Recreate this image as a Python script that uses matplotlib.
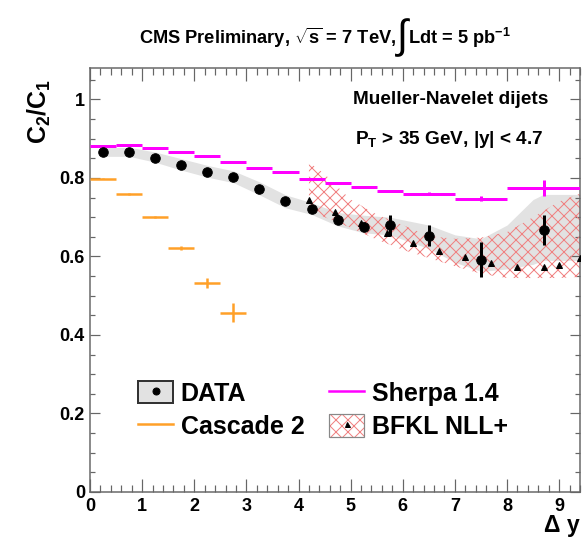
import matplotlib
matplotlib.use("Agg")
import matplotlib.pyplot as plt
from matplotlib.lines import Line2D
from matplotlib.patches import Patch
from matplotlib.ticker import MultipleLocator, FuncFormatter

plt.rcParams['font.family'] = ['Liberation Sans', 'DejaVu Sans']
plt.rcParams['font.weight'] = 'bold'
plt.rcParams['mathtext.fontset'] = 'custom'
plt.rcParams['mathtext.rm'] = 'Liberation Sans:weight=bold'
plt.rcParams['mathtext.it'] = 'Liberation Sans:weight=bold'
plt.rcParams['mathtext.bf'] = 'Liberation Sans:weight=bold'
plt.rcParams['mathtext.default'] = 'bf'
plt.rcParams['hatch.linewidth'] = 1.0

# --- DATA (C2/C1 vs delta y) ---
data_x = [0.25, 0.75, 1.25, 1.75, 2.25, 2.75, 3.25, 3.75, 4.25, 4.75, 5.25, 5.75, 6.5, 7.5, 8.7]
data_y = [0.865, 0.866, 0.852, 0.834, 0.816, 0.803, 0.773, 0.740, 0.722, 0.694, 0.676, 0.679, 0.653, 0.592, 0.668]
data_err = [0.004, 0.004, 0.004, 0.004, 0.004, 0.004, 0.005, 0.006, 0.010, 0.012, 0.012, 0.027, 0.027, 0.045, 0.038]

# systematic band around data
band_x = [0.25, 0.75, 1.25, 1.75, 2.25, 2.75, 3.25, 3.75, 4.25, 4.75, 5.25, 5.75, 6.5, 7.0, 7.5, 8.0, 8.5, 8.7, 9.4]
band_hi = [0.877, 0.878, 0.866, 0.849, 0.832, 0.818, 0.790, 0.757, 0.737, 0.712, 0.705, 0.700, 0.680, 0.655, 0.645, 0.680, 0.745, 0.758, 0.758]
band_lo = [0.855, 0.855, 0.840, 0.820, 0.802, 0.788, 0.757, 0.724, 0.707, 0.678, 0.660, 0.655, 0.620, 0.585, 0.562, 0.568, 0.580, 0.590, 0.590]

# Sherpa 1.4 (bins)
sherpa_lo = [0.0, 0.5, 1.0, 1.5, 2.0, 2.5, 3.0, 3.5, 4.0, 4.5, 5.0, 5.5, 6.0, 7.0, 8.0]
sherpa_hi = [0.5, 1.0, 1.5, 2.0, 2.5, 3.0, 3.5, 4.0, 4.5, 5.0, 5.5, 6.0, 7.0, 8.0, 9.4]
sherpa_y = [0.881, 0.885, 0.875, 0.866, 0.855, 0.840, 0.826, 0.815, 0.798, 0.787, 0.776, 0.766, 0.760, 0.747, 0.775]
sherpa_err = [0.001, 0.001, 0.001, 0.001, 0.001, 0.001, 0.001, 0.001, 0.001, 0.001, 0.002, 0.002, 0.003, 0.006, 0.020]

# Cascade 2 (bins)
cascade_lo = [0.0, 0.5, 1.0, 1.5, 2.0, 2.5]
cascade_hi = [0.5, 1.0, 1.5, 2.0, 2.5, 3.0]
cascade_y = [0.798, 0.759, 0.700, 0.622, 0.533, 0.457]
cascade_err = [0.002, 0.002, 0.003, 0.005, 0.013, 0.024]

# BFKL NLL+ band and central values
bfkl_band_x = [4.2, 4.5, 5.0, 5.5, 6.0, 6.5, 7.0, 7.5, 8.0, 8.5, 9.0, 9.4]
bfkl_hi = [0.840, 0.810, 0.745, 0.707, 0.680, 0.652, 0.645, 0.648, 0.662, 0.700, 0.740, 0.760]
bfkl_lo = [0.720, 0.700, 0.673, 0.643, 0.617, 0.596, 0.575, 0.556, 0.545, 0.545, 0.545, 0.548]
bfkl_x = [4.2, 4.7, 5.2, 5.7, 6.2, 6.7, 7.2, 7.7, 8.2, 8.7, 9.0, 9.4]
bfkl_y = [0.745, 0.712, 0.685, 0.660, 0.635, 0.615, 0.598, 0.583, 0.574, 0.572, 0.578, 0.597]

W, H = 588, 540
fig = plt.figure(figsize=(W / 72, H / 72), dpi=72)
ax = fig.add_axes([90 / W, 1 - 492 / H, 490 / W, 424 / H])

grey = '#e2e2e2'
hatch_red = '#f08080'
magenta = '#ff00ff'
orange = '#ffa028'

ax.fill_between(band_x, band_lo, band_hi, color=grey, linewidth=0, zorder=1)
ax.fill_between(bfkl_band_x, bfkl_lo, bfkl_hi, facecolor='none', edgecolor=hatch_red,
                hatch='xx', linewidth=0, zorder=2)

def bin_errorbar(lo, hi, y, err, color, lw):
    xc = [(a + b) / 2 for a, b in zip(lo, hi)]
    xerr = [[c - a for c, a in zip(xc, lo)], [b - c for c, b in zip(xc, hi)]]
    ax.errorbar(xc, y, xerr=xerr, yerr=err, fmt='none', ecolor=color,
                elinewidth=lw, capsize=0, zorder=3)

bin_errorbar(sherpa_lo, sherpa_hi, sherpa_y, sherpa_err, magenta, 3)
bin_errorbar(cascade_lo, cascade_hi, cascade_y, cascade_err, orange, 2.5)

ax.plot(bfkl_x, bfkl_y, linestyle='none', marker='^', color='black', markersize=6, zorder=4)
ax.errorbar(data_x, data_y, yerr=data_err, fmt='o', color='black', markersize=9.5,
            elinewidth=3, capsize=0, zorder=5)

ax.set_xlim(0, 9.4)
ax.set_ylim(0, 1.08)
ax.xaxis.set_major_locator(MultipleLocator(1))
ax.xaxis.set_minor_locator(MultipleLocator(0.2))
ax.yaxis.set_major_locator(MultipleLocator(0.2))
ax.yaxis.set_minor_locator(MultipleLocator(0.05))
ax.yaxis.set_major_formatter(FuncFormatter(lambda v, p: '%g' % round(v, 2)))

axis_col = '#666666'
for s in ax.spines.values():
    s.set_color(axis_col)
    s.set_linewidth(1.5)
ax.tick_params(which='both', direction='in', top=True, right=True, color=axis_col, width=1.2)
ax.tick_params(axis='x', which='major', length=13, labelsize=18, pad=6)
ax.tick_params(axis='x', which='minor', length=7)
ax.tick_params(axis='y', which='major', length=10, labelsize=18, pad=5)
ax.tick_params(axis='y', which='minor', length=5)
for lbl in ax.get_xticklabels() + ax.get_yticklabels():
    lbl.set_fontweight('bold')

ax.set_ylabel('C$_2$/C$_1$', fontsize=25, loc='top', fontweight='bold')
ax.yaxis.set_label_coords(-0.075, 0.975)
ax.set_xlabel('\u0394 y', fontsize=23, loc='right', fontweight='bold')
ax.xaxis.set_label_coords(1.0, -0.052)

ax.text(0.935, 0.925, 'Mueller-Navelet dijets', transform=ax.transAxes,
        ha='right', va='center', fontsize=19, fontweight='bold')
ax.text(0.925, 0.832, 'P$_T$ > 35 GeV, |y| < 4.7', transform=ax.transAxes,
        ha='right', va='center', fontsize=19, fontweight='bold')

# title built from three pieces so the integral sign can be larger
t1 = fig.text(139 / W, 1 - 38 / H, r'CMS Preliminary, $\sqrt{s}$ = 7 TeV, ',
              fontsize=18.3, va='center', ha='left', fontweight='bold')
t2 = ax.annotate('\u222b', xy=(1, 0.5), xycoords=t1, fontsize=40, fontweight='normal',
                 va='center', ha='left', annotation_clip=False)
ax.annotate('Ldt = 5 pb$^{-1}$', xy=(1, 0.5), xycoords=(t2, t1), fontsize=18.3,
            va='center', ha='left', annotation_clip=False, fontweight='bold')

handles = [
    (Patch(facecolor=grey, edgecolor='#333333', linewidth=2),
     Line2D([], [], linestyle='none', marker='o', color='black', markersize=7)),
    Line2D([], [], color=orange, linewidth=2.5),
    Line2D([], [], color=magenta, linewidth=2.5),
    (Patch(facecolor='white', edgecolor=hatch_red, hatch='xx', linewidth=0),
     Patch(facecolor='none', edgecolor='#888888', linewidth=1.2),
     Line2D([], [], linestyle='none', marker='^', color='black', markersize=5)),
]
labels = ['DATA', 'Cascade 2', 'Sherpa 1.4', 'BFKL NLL+']
leg = ax.legend(handles, labels, ncol=2, loc='upper left', bbox_to_anchor=(0.098, 0.262),
                frameon=False, fontsize=25, borderpad=0, handlelength=1.4, handleheight=1.0,
                handletextpad=0.3, columnspacing=1.0, labelspacing=0.35, borderaxespad=0)
for t in leg.get_texts():
    t.set_fontweight('bold')

fig.savefig('out.png', dpi=72)
